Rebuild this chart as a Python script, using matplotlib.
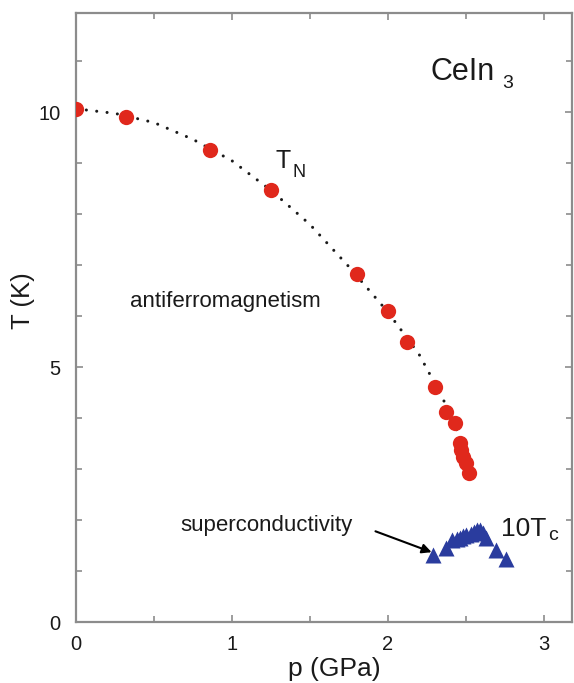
import matplotlib.pyplot as plt

plt.rcParams['font.family'] = ['Liberation Sans', 'DejaVu Sans']

# T_N (red circles)
p_n = [0.0, 0.32, 0.86, 1.25, 1.80, 2.00, 2.12, 2.30, 2.37, 2.43, 2.46, 2.47, 2.48, 2.50, 2.52]
t_n = [10.07, 9.90, 9.27, 8.47, 6.82, 6.11, 5.50, 4.62, 4.13, 3.91, 3.52, 3.38, 3.24, 3.12, 2.93]

# dotted guide line
p_fit = [0.0, 0.25, 0.5, 0.75, 1.0, 1.25, 1.5, 1.75, 2.0, 2.2, 2.35, 2.45, 2.52]
t_fit = [10.07, 9.98, 9.80, 9.47, 9.05, 8.47, 7.80, 6.97, 6.08, 5.25, 4.40, 3.70, 2.95]

# 10 T_c (blue triangles)
p_c = [2.29, 2.37, 2.41, 2.44, 2.46, 2.48, 2.50, 2.53, 2.55, 2.57, 2.59, 2.61, 2.63, 2.69, 2.76]
t_c = [1.32, 1.45, 1.60, 1.63, 1.65, 1.68, 1.70, 1.73, 1.76, 1.80, 1.80, 1.75, 1.64, 1.41, 1.24]

txt = '#1a1a1a'
grey = '#8c8c8c'
H = 683

fig = plt.figure(figsize=(5.74, 6.83), dpi=100)
ax = fig.add_axes([0.1324, 0.0893, 0.8641, 0.8917])

ax.plot(p_fit, t_fit, color='#1a1a1a', lw=2.2, linestyle=(0, (0.01, 3.4)),
        dash_capstyle='round', zorder=2)
ax.plot(p_n, t_n, 'o', color='#e0281c', ms=11, mec='none', zorder=3)
ax.plot(p_c, t_c, '^', color='#2a3c9e', ms=12, mec='none', zorder=3)

ax.set_xlim(0, 3.18)
ax.set_ylim(0, 11.95)
ax.set_xticks([0, 1, 2, 3])
ax.set_yticks([0, 5, 10])
ax.set_xticks([0.5, 1.5, 2.5], minor=True)
ax.set_yticks([1, 2, 3, 4, 6, 7, 8, 9, 11], minor=True)
ax.tick_params(which='both', direction='in', top=True, right=True,
               color=grey, width=1.2, labelsize=14.5, labelcolor=txt)
ax.tick_params(which='major', length=5)
ax.tick_params(which='minor', length=4)
ax.tick_params(axis='y', pad=11)
ax.tick_params(axis='x', pad=9)
for s in ax.spines.values():
    s.set_color(grey)
    s.set_linewidth(1.6)

ax.set_xlabel('p (GPa)', fontsize=19, color=txt)
ax.set_ylabel('T (K)', fontsize=18.5, color=txt)
ax.xaxis.set_label_coords(0.52, -0.058)
ax.yaxis.set_label_coords(-0.083, 0.527)


def label(x, y, s, size):
    # x, y in pixels from the top-left corner, y is the baseline
    fig.text(x / 574, (H - y) / H, s, fontsize=size, color=txt, va='baseline')


label(431, 80, 'CeIn', 22)
label(502, 88, '3', 14)
label(275, 168, 'T', 18)
label(292, 177, 'N', 13)
label(130, 307, 'antiferromagnetism', 16)
label(180, 531, 'superconductivity', 16)
label(501, 536, '10T', 19)
label(548, 540, 'c', 14)

ax.annotate('', xy=(p_c[0] - 0.01, t_c[0] + 0.05), xytext=(1.92, 1.78),
            arrowprops=dict(arrowstyle='-|>', color='black', lw=1.5,
                            mutation_scale=14, shrinkA=0, shrinkB=0))

fig.savefig('out.png', dpi=100)
